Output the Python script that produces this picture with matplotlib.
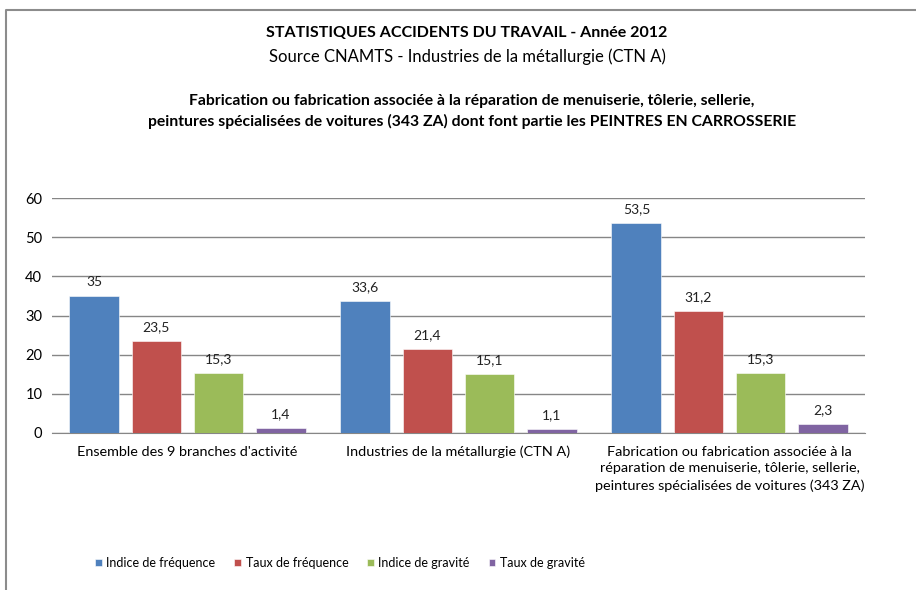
import numpy as np
import matplotlib.pyplot as plt
from matplotlib.lines import Line2D

plt.rcParams['font.family'] = ['Lato', 'DejaVu Sans']

categories = ["Ensemble des 9 branches d'activité",
              "Industries de la métallurgie (CTN A)",
              "Fabrication ou fabrication associée à la\nréparation de menuiserie, tôlerie, sellerie,\npeintures spécialisées de voitures (343 ZA)"]
series = ['Indice de fréquence', 'Taux de fréquence', 'Indice de gravité', 'Taux de gravité']
indice_freq = [35, 33.6, 53.5]
taux_freq = [23.5, 21.4, 31.2]
indice_grav = [15.3, 15.1, 15.3]
taux_grav = [1.4, 1.1, 2.3]
colors = ['#4F81BD', '#C0504D', '#9BBB59', '#8064A2']

W, H = 916, 590
fig = plt.figure(figsize=(W / 100, H / 100), dpi=100)

# outer chart frame (left and top only visible)
fig.add_artist(Line2D([6 / W, 6 / W, 1], [0, 1 - 10 / H, 1 - 10 / H],
                      color='#8c8c8c', lw=1.5, transform=fig.transFigure))

ax = fig.add_axes([52 / W, 1 - 433 / H, (865 - 52) / W, (433 - 198) / H])

x = np.arange(len(categories))
bw = 0.184
step = 0.229
all_vals = [indice_freq, taux_freq, indice_grav, taux_grav]
for i, vals in enumerate(all_vals):
    pos = x + (i - 1.5) * step
    ax.bar(pos, vals, width=bw, color=colors[i], label=series[i], zorder=3,
           edgecolor='white', linewidth=0.4)
    for p, v in zip(pos, vals):
        ax.text(p, v + 2.0, str(v).replace('.', ','), ha='center', va='bottom',
                fontsize=10, color='#222222')

ax.set_xlim(-0.5, 2.5)
ax.set_ylim(0, 60)
ax.set_yticks(range(0, 61, 10))
ax.yaxis.grid(True, color='#868686', lw=1)
ax.set_axisbelow(True)
for s in ['top', 'right', 'left']:
    ax.spines[s].set_visible(False)
ax.spines['bottom'].set_color('#868686')
ax.tick_params(axis='y', length=0, labelsize=10.5, pad=7)
ax.tick_params(axis='x', length=0, labelsize=10.4, pad=9)
ax.set_xticks(x)
ax.set_xticklabels(categories, linespacing=1.5, va='top')

fig.text(467 / W, 1 - 33 / H, 'STATISTIQUES ACCIDENTS DU TRAVAIL - Année 2012',
         ha='center', va='center', fontsize=11.5, fontweight='bold')
fig.text(467 / W, 1 - 57 / H, 'Source CNAMTS - Industries de la métallurgie (CTN A)',
         ha='center', va='center', fontsize=12)
fig.text(472 / W, 1 - 101 / H,
         'Fabrication ou fabrication associée à la réparation de menuiserie, tôlerie, sellerie,',
         ha='center', va='center', fontsize=11.3, fontweight='bold')
fig.text(472 / W, 1 - 121 / H,
         'peintures spécialisées de voitures (343 ZA) dont font partie les PEINTRES EN CARROSSERIE',
         ha='center', va='center', fontsize=11.3, fontweight='bold')

fig.legend(loc='center', bbox_to_anchor=(340 / W, 1 - 563 / H), ncol=4, frameon=False,
           fontsize=9, handlelength=0.55, handleheight=0.55, handletextpad=0.35,
           columnspacing=1.5)

fig.savefig('out.png', dpi=100)
